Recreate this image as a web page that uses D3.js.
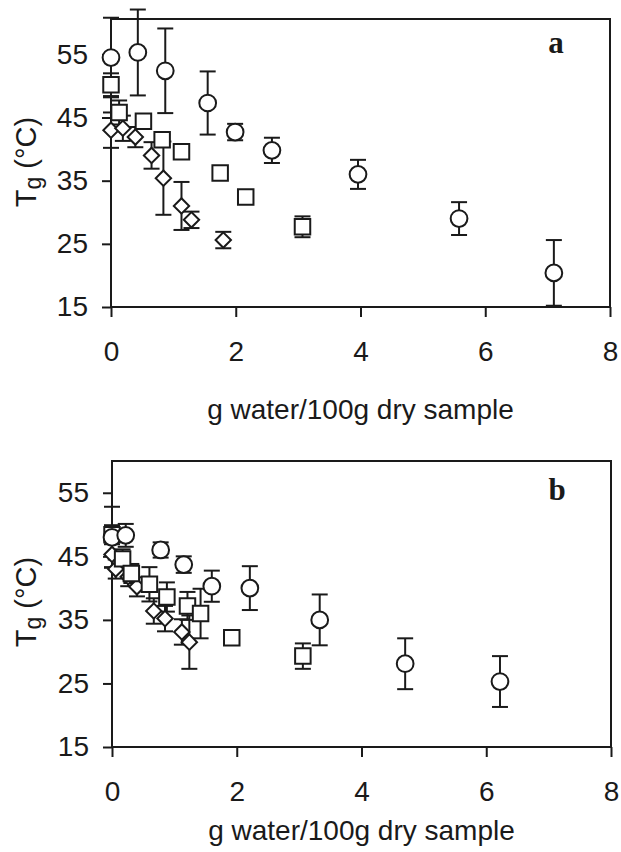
<!DOCTYPE html>
<html>
<head>
<meta charset="utf-8">
<script src="https://cdn.jsdelivr.net/npm/d3@7"></script>
<style>
  body { margin: 0; background: #fff; }
  text { font-family: "Liberation Sans", Arial, sans-serif; fill: #1a1a1a; }
</style>
</head>
<body>
<svg id="chart" width="621" height="852"></svg>
<script>
// tick labels
var xTicks = [0, 2, 4, 6, 8];
var yTicks = [15, 25, 35, 45, 55];

// panel a
var aCircleX  = [0, 0.43, 0.87, 1.55, 1.99, 2.58, 3.96, 5.58, 7.10];
var aCircleY  = [54.5, 55.3, 52.4, 47.3, 42.7, 39.8, 36.0, 29.0, 20.4];
var aCircleE  = [6.3, 6.8, 6.7, 5.0, 1.3, 2.0, 2.3, 2.6, 5.2];
var aSquareX  = [0, 0.13, 0.52, 0.82, 1.13, 1.75, 2.16, 3.07];
var aSquareY  = [50.2, 45.8, 44.4, 41.5, 39.6, 36.2, 32.4, 27.7];
var aSquareE  = [1.8, 1.9, 0.6, 0.8, 0, 0, 0, 1.65];
var aDiamondX = [0, 0.19, 0.39, 0.65, 0.84, 1.13, 1.29, 1.80];
var aDiamondY = [43.0, 43.3, 41.9, 39.0, 35.4, 31.0, 28.8, 25.6];
var aDiamondE = [2.8, 2.0, 1.6, 2.1, 5.8, 3.8, 1.3, 1.3];

// panel b
var bCircleX  = [0, 0.22, 0.78, 1.15, 1.60, 2.21, 3.33, 4.70, 6.22];
var bCircleY  = [48.0, 48.3, 46.0, 43.7, 40.3, 40.0, 35.0, 28.1, 25.3];
var bCircleE  = [4.8, 1.8, 1.2, 1.3, 2.45, 3.45, 4.0, 4.0, 4.0];
var bSquareX  = [0, 0.17, 0.31, 0.60, 0.88, 1.21, 1.42, 1.92, 3.06];
var bSquareY  = [48.4, 44.6, 42.3, 40.6, 38.6, 37.2, 36.0, 32.2, 29.3];
var bSquareE  = [1.5, 1.5, 1.5, 2.7, 2.3, 2.2, 3.9, 0, 2.0];
var bDiamondX = [0, 0.06, 0.26, 0.40, 0.67, 0.85, 1.12, 1.24];
var bDiamondY = [45.3, 43.0, 41.8, 40.2, 36.4, 35.2, 33.1, 31.5];
var bDiamondE = [2.0, 1.5, 1.5, 1.5, 2.0, 2.0, 2.0, 4.2];

function zip(xs, ys, es) {
  return xs.map(function(x, i) { return {x: x, y: ys[i], e: es[i]}; });
}

var svg = d3.select("#chart");

function drawPanel(opt) {
  var x = d3.scaleLinear().domain([0, 8]).range([opt.left, opt.right]);
  var y = d3.scaleLinear().domain([15, opt.yMax]).range([opt.bottom, opt.top]);
  var g = svg.append("g");

  // frame
  g.append("rect")
    .attr("x", opt.left).attr("y", opt.top)
    .attr("width", opt.right - opt.left).attr("height", opt.bottom - opt.top)
    .attr("fill", "none").attr("stroke", "#1a1a1a").attr("stroke-width", 2);

  // axes
  var xAxis = g.append("g")
    .attr("transform", "translate(0," + opt.bottom + ")")
    .call(d3.axisBottom(x).tickValues(xTicks).tickSize(10).tickPadding(24).tickFormat(d3.format("d")));
  var yAxis = g.append("g")
    .attr("transform", "translate(" + opt.left + ",0)")
    .call(d3.axisLeft(y).tickValues(yTicks).tickSize(9).tickPadding(14).tickFormat(d3.format("d")));
  [xAxis, yAxis].forEach(function(a) {
    a.select(".domain").remove();
    a.selectAll("line").attr("stroke", "#1a1a1a").attr("stroke-width", 2);
    a.selectAll("text").style("font-size", "28px").attr("fill", "#1a1a1a");
  });

  // axis titles
  g.append("text")
    .attr("x", (opt.left + opt.right) / 2).attr("y", opt.bottom + opt.xTitleDy)
    .attr("text-anchor", "middle").style("font-size", "28px")
    .text("g water/100g dry sample");
  var yt = g.append("text")
    .attr("transform", "translate(36," + opt.titleY + ") rotate(-90)")
    .attr("text-anchor", "middle").style("font-size", "29px");
  yt.append("tspan").text("T");
  yt.append("tspan").attr("dy", 5).style("font-size", "23px").text("g");
  yt.append("tspan").attr("dy", -5).text(" (\u00B0C)");

  // panel letter
  g.append("text")
    .attr("x", opt.right - 54).attr("y", opt.top + opt.letterDy)
    .attr("text-anchor", "middle")
    .style("font-family", "'Liberation Serif', 'Times New Roman', serif")
    .style("font-weight", "bold").style("font-size", "31px")
    .text(opt.letter);

  var series = [
    {data: zip(opt.dX, opt.dY, opt.dE), sym: d3.symbol().type(d3.symbolSquare).size(118), rot: 45},
    {data: zip(opt.sX, opt.sY, opt.sE), sym: d3.symbol().type(d3.symbolSquare).size(240), rot: 0},
    {data: zip(opt.cX, opt.cY, opt.cE), sym: d3.symbol().type(d3.symbolCircle).size(220), rot: 0}
  ];

  // error bars first, markers on top
  series.forEach(function(s) {
    var eb = g.append("g").attr("stroke", "#1a1a1a").attr("stroke-width", 2);
    s.data.filter(function(d) { return d.e > 0; }).forEach(function(d) {
      var cx = x(d.x), y0 = y(d.y - d.e), y1 = y(d.y + d.e);
      eb.append("line").attr("x1", cx).attr("x2", cx).attr("y1", y0).attr("y2", y1);
      eb.append("line").attr("x1", cx - 8).attr("x2", cx + 8).attr("y1", y0).attr("y2", y0);
      eb.append("line").attr("x1", cx - 8).attr("x2", cx + 8).attr("y1", y1).attr("y2", y1);
    });
  });
  series.forEach(function(s) {
    g.append("g").selectAll("path").data(s.data).join("path")
      .attr("d", s.sym)
      .attr("transform", function(d) { return "translate(" + x(d.x) + "," + y(d.y) + ") rotate(" + s.rot + ")"; })
      .attr("fill", "#fff").attr("stroke", "#1a1a1a").attr("stroke-width", 2);
  });
}

drawPanel({
  left: 111, right: 610, top: 19, bottom: 307, yMax: 60.6, titleY: 162, letter: "a", letterDy: 34,
  xTitleDy: 112,
  cX: aCircleX, cY: aCircleY, cE: aCircleE,
  sX: aSquareX, sY: aSquareY, sE: aSquareE,
  dX: aDiamondX, dY: aDiamondY, dE: aDiamondE
});
drawPanel({
  left: 112, right: 611, top: 461, bottom: 747, yMax: 60, titleY: 602, letter: "b", letterDy: 39,
  xTitleDy: 93,
  cX: bCircleX, cY: bCircleY, cE: bCircleE,
  sX: bSquareX, sY: bSquareY, sE: bSquareE,
  dX: bDiamondX, dY: bDiamondY, dE: bDiamondE
});
</script>
</body>
</html>
